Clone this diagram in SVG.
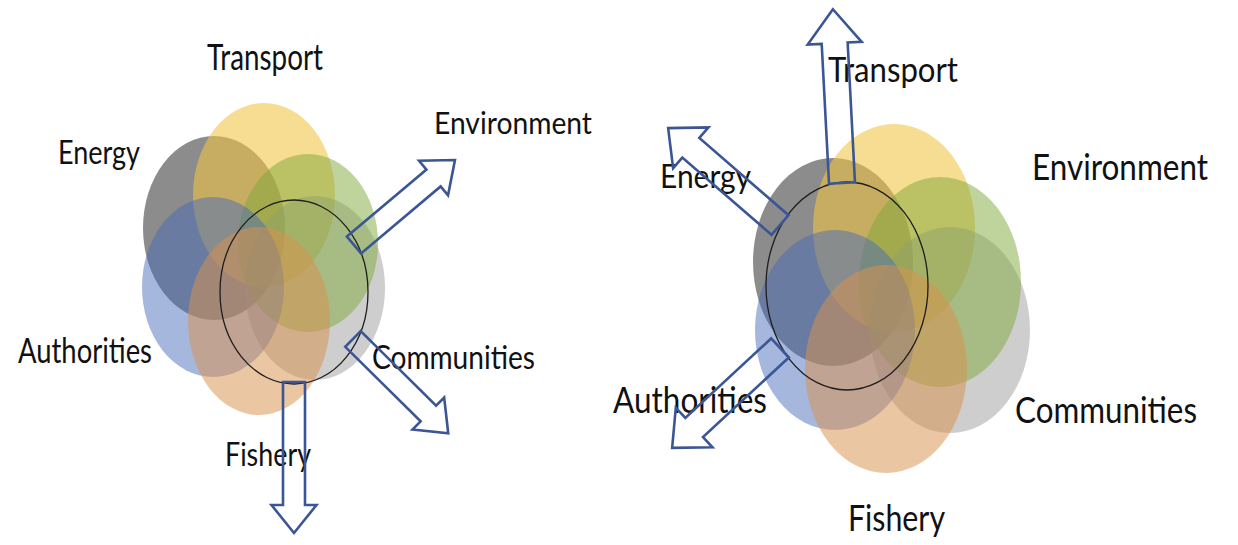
<svg xmlns="http://www.w3.org/2000/svg" width="1238" height="545" viewBox="0 0 1238 545">
<style>
.lbl{font-family:Lato,"Liberation Sans",sans-serif;fill:#111;}
.e-energy{fill:#505050;fill-opacity:0.66;}
.e-transport{fill:#efc443;fill-opacity:0.58;}
.e-env{fill:#7fa83a;fill-opacity:0.5;}
.e-comm{fill:#999999;fill-opacity:0.48;}
.e-auth{fill:#4468bb;fill-opacity:0.48;}
.e-fish{fill:#d8924f;fill-opacity:0.52;}
.core{fill:none;stroke:#1e1e1e;stroke-width:1.3;}
.arr{fill:none;stroke:#3b5694;stroke-width:2.6;stroke-linejoin:miter;}
</style>
<defs>
<polygon id="arrS132" points="0,-11 104,-11 104,-22.5 132,0 104,22.5 104,11 0,11"/>
<polygon id="arrS134" points="0,-11 106,-11 106,-22.5 134,0 106,22.5 106,11 0,11"/>
<polygon id="arrS151" points="0,-11 123,-11 123,-22.5 151,0 123,22.5 123,11 0,11"/>
<polygon id="arrL174" points="0,-13 140,-13 140,-27 174,0 140,27 140,13 0,13"/>
<polygon id="arrL148" points="0,-13 118,-13 118,-27 148,0 118,27 118,13 0,13"/>
<polygon id="arrL147" points="0,-13 117,-13 117,-27 147,0 117,27 117,13 0,13"/>
</defs>
<rect width="1238" height="545" fill="#fff"/>

<g id="left-cluster">
  <g id="left-energy"><ellipse class="e-energy" cx="214" cy="228" rx="71" ry="92"/><text class="lbl" x="58" y="164" font-size="33" textLength="82" lengthAdjust="spacingAndGlyphs">Energy</text></g>
  <g id="left-transport"><ellipse class="e-transport" cx="264" cy="195" rx="71" ry="92"/><text class="lbl" x="207" y="70" font-size="37" textLength="116" lengthAdjust="spacingAndGlyphs">Transport</text></g>
  <g id="left-communities"><ellipse class="e-comm" cx="315" cy="288" rx="70" ry="92"/><text class="lbl" x="372" y="369" font-size="33" textLength="163" lengthAdjust="spacingAndGlyphs">Communities</text></g>
  <g id="left-environment"><ellipse class="e-env" cx="308" cy="243" rx="70" ry="89"/><text class="lbl" x="434" y="134" font-size="31" textLength="158" lengthAdjust="spacingAndGlyphs">Environment</text></g>
  <g id="left-authorities"><ellipse class="e-auth" cx="213" cy="287" rx="71" ry="90"/><text class="lbl" x="18" y="363" font-size="35" textLength="134" lengthAdjust="spacingAndGlyphs">Authorities</text></g>
  <g id="left-fishery"><ellipse class="e-fish" cx="259" cy="321" rx="71" ry="94"/><text class="lbl" x="225" y="466" font-size="32" textLength="86" lengthAdjust="spacingAndGlyphs">Fishery</text></g>
  <g id="left-core"><ellipse class="core" cx="294" cy="292" rx="74" ry="92"/></g>
</g>

<g id="right-cluster">
  <g id="right-energy"><ellipse class="e-energy" cx="833" cy="262" rx="80" ry="104"/><text class="lbl" x="660" y="188" font-size="32" textLength="91" lengthAdjust="spacingAndGlyphs">Energy</text></g>
  <g id="right-transport"><ellipse class="e-transport" cx="894" cy="228" rx="81" ry="104"/><text class="lbl" x="828" y="82" font-size="35" textLength="130" lengthAdjust="spacingAndGlyphs">Transport</text></g>
  <g id="right-communities"><ellipse class="e-comm" cx="950" cy="330" rx="80" ry="103"/><text class="lbl" x="1015" y="423" font-size="37" textLength="182" lengthAdjust="spacingAndGlyphs">Communities</text></g>
  <g id="right-environment"><ellipse class="e-env" cx="940" cy="282" rx="81" ry="105"/><text class="lbl" x="1032" y="180" font-size="37" textLength="176" lengthAdjust="spacingAndGlyphs">Environment</text></g>
  <g id="right-authorities"><ellipse class="e-auth" cx="835" cy="330" rx="80" ry="100"/><text class="lbl" x="613" y="413" font-size="36" textLength="154" lengthAdjust="spacingAndGlyphs">Authorities</text></g>
  <g id="right-fishery"><ellipse class="e-fish" cx="886" cy="369" rx="81" ry="104"/><text class="lbl" x="848" y="531" font-size="36" textLength="97" lengthAdjust="spacingAndGlyphs">Fishery</text></g>
  <g id="right-core"><ellipse class="core" cx="847" cy="286" rx="81" ry="104"/></g>
</g>

<g id="connectors">
  <use href="#arrS132" class="arr" transform="translate(354,245) rotate(-40.1)"/>
  <use href="#arrS134" class="arr" transform="translate(353,339) rotate(44.7)"/>
  <use href="#arrS151" class="arr" transform="translate(294,382) rotate(90)"/>
  <use href="#arrL174" class="arr" transform="translate(842,183) rotate(-93)"/>
  <use href="#arrL148" class="arr" transform="translate(780,225) rotate(-139.1)"/>
  <use href="#arrL147" class="arr" transform="translate(780,348) rotate(137.2)"/>
</g>
</svg>
